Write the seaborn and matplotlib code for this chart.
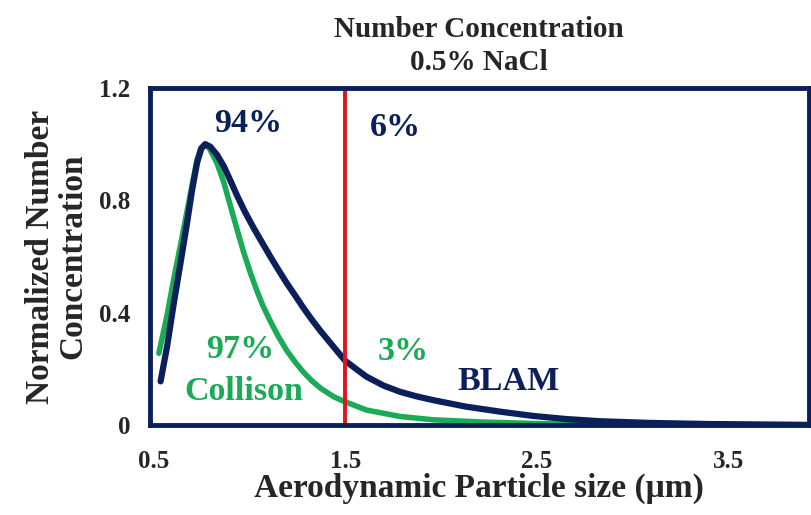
import matplotlib
matplotlib.use("Agg")
import matplotlib.pyplot as plt
import seaborn as sns
import pandas as pd

# Data
blam_x = [0.535, 0.569, 0.604, 0.639, 0.673, 0.700, 0.726, 0.748, 0.769, 0.795, 0.830,
          0.865, 0.900, 0.934, 0.975, 1.020, 1.065, 1.108, 1.150, 1.194, 1.240, 1.280,
          1.325, 1.370, 1.440, 1.500, 1.610, 1.700, 1.785, 1.870, 1.960, 2.130, 2.310,
          2.480, 2.650, 2.830, 3.090, 3.400, 3.920]
blam_y = [0.155, 0.279, 0.433, 0.576, 0.718, 0.838, 0.935, 0.985, 1.000, 0.991, 0.962,
          0.922, 0.870, 0.818, 0.760, 0.703, 0.650, 0.600, 0.553, 0.505, 0.459, 0.418,
          0.375, 0.335, 0.277, 0.228, 0.172, 0.140, 0.118, 0.102, 0.088, 0.065, 0.047,
          0.032, 0.021, 0.013, 0.007, 0.003, 0.0]
coll_x = [0.526, 0.569, 0.604, 0.639, 0.673, 0.700, 0.726, 0.745, 0.765, 0.790, 0.830,
          0.865, 0.900, 0.935, 0.969, 1.005, 1.038, 1.070, 1.108, 1.150, 1.194, 1.240,
          1.280, 1.325, 1.370, 1.440, 1.500, 1.610, 1.785, 1.960, 2.220, 2.480, 2.800, 3.200]
coll_y = [0.255, 0.390, 0.520, 0.640, 0.760, 0.855, 0.945, 0.985, 1.000, 0.985, 0.932,
          0.865, 0.780, 0.695, 0.615, 0.540, 0.478, 0.424, 0.370, 0.315, 0.265, 0.222,
          0.189, 0.157, 0.131, 0.100, 0.082, 0.053, 0.030, 0.018, 0.010, 0.005, 0.001, 0.0]
cutoff = 1.5
x_ticks = [0.5, 1.5, 2.5, 3.5]
y_ticks = [0, 0.4, 0.8, 1.2]
y_ticklabels = ["0", "0.4", "0.8", "1.2"]

navy = "#0b1f5b"
green = "#1bab57"

df = pd.DataFrame({
    "x": blam_x + coll_x,
    "y": blam_y + coll_y,
    "series": ["BLAM"] * len(blam_x) + ["Collison"] * len(coll_x),
})

sns.set_theme(style="white")
plt.rcParams["font.family"] = ["Liberation Serif", "DejaVu Serif"]
plt.rcParams["font.weight"] = "bold"

fig = plt.figure(figsize=(8.11, 5.15), dpi=100)
ax = fig.add_axes([0.185, 0.175, 0.812, 0.654])

sns.lineplot(data=df[df.series == "Collison"], x="x", y="y", color=green, lw=4,
             ax=ax, legend=False, sort=False, solid_capstyle="round", solid_joinstyle="round")
sns.lineplot(data=df[df.series == "BLAM"], x="x", y="y", color=navy, lw=4.5,
             ax=ax, legend=False, sort=False, solid_capstyle="round", solid_joinstyle="round")
ax.axvline(cutoff, color="#e0141b", lw=2.8)

ax.set_xlim(0.48, 3.92)
ax.set_ylim(0, 1.2)
ax.set_xticks(x_ticks)
ax.set_xticklabels([str(v) for v in x_ticks])
ax.set_yticks(y_ticks)
ax.set_yticklabels(y_ticklabels)
ax.tick_params(axis="x", length=0, pad=18, labelsize=18)
ax.tick_params(axis="y", length=0, pad=14, labelsize=18)
for lab in ax.get_xticklabels() + ax.get_yticklabels():
    lab.set_fontweight("bold")

for s in ax.spines.values():
    s.set_color(navy)
    s.set_linewidth(3.5)
    s.set_visible(True)

ax.set_xlabel("Aerodynamic Particle size (μm)", fontsize=24, fontweight="bold", labelpad=0)
ax.set_ylabel("Normalized Number\nConcentration", fontsize=24, fontweight="bold",
              labelpad=8, linespacing=1.05)
ax.set_title("Number Concentration\n0.5% NaCl", fontsize=21, fontweight="bold", pad=13,
             linespacing=1.3)

kw = dict(fontsize=24.5, fontweight="bold", ha="center", va="center")
ax.text(0.995, 1.075, "94%", color=navy, **kw)
ax.text(1.76, 1.058, "6%", color=navy, **kw)
ax.text(0.953, 0.267, "97%", color=green, **kw)
ax.text(0.97, 0.118, "Collison", color=green, **kw)
ax.text(1.80, 0.26, "3%", color=green, **kw)
ax.text(2.35, 0.153, "BLAM", color=navy, **kw)

fig.savefig("out.png", dpi=100)
